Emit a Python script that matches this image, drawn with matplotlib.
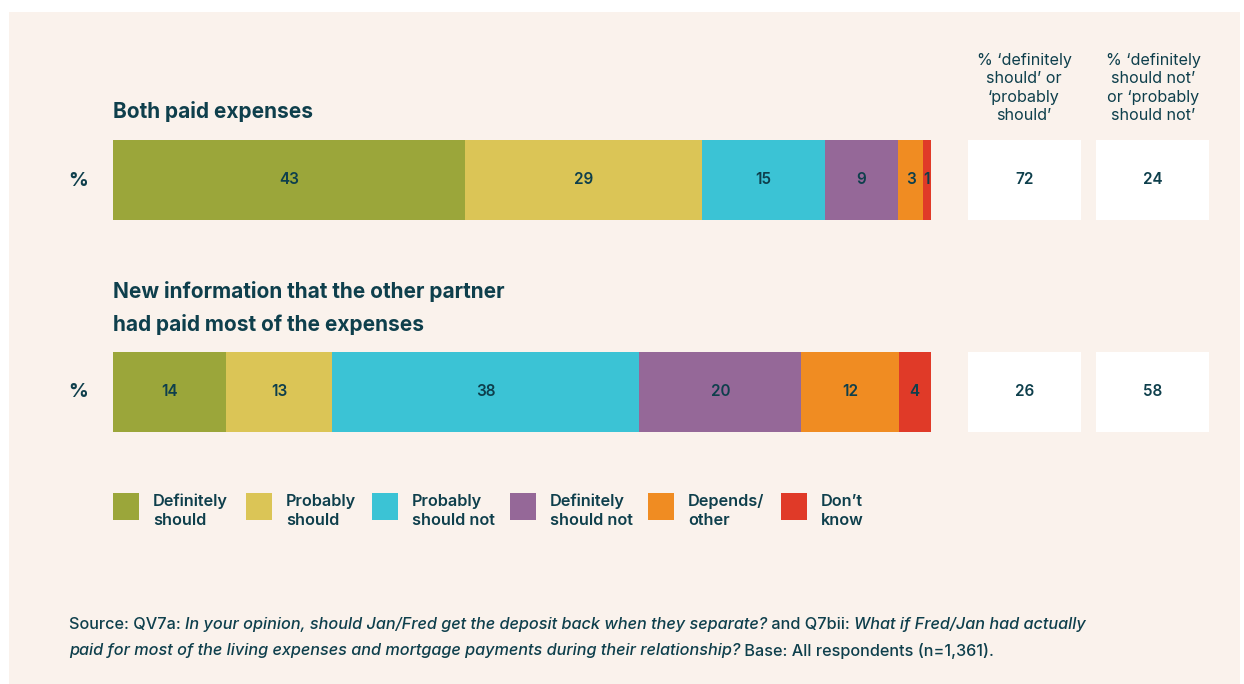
import matplotlib.pyplot as plt
import matplotlib.patches as patches
import numpy as np

W, H = 1244, 684

categories = ['Definitely\nshould', 'Probably\nshould', 'Probably\nshould not',
              'Definitely\nshould not', 'Depends/\nother', 'Don\u2019t\nknow']
row_titles = ['Both paid expenses',
              'New information that the other partner\nhad paid most of the expenses']
both_paid = [43, 29, 15, 9, 3, 1]
other_paid = [14, 13, 38, 20, 12, 4]
net_should = [72, 26]
net_should_not = [24, 58]
col_headers = ['% \u2018definitely\nshould\u2019 or\n\u2018probably\nshould\u2019',
               '% \u2018definitely\nshould not\u2019\nor \u2018probably\nshould not\u2019']

colors = ['#9ba63a', '#dbc556', '#3bc3d5', '#956898', '#f08c22', '#e03a28']
bg = '#faf2ec'
ink = '#0e3f4c'

plt.rcParams['font.family'] = ['Inter', 'DejaVu Sans']

fig = plt.figure(figsize=(W / 100, H / 100), dpi=100, facecolor='white')

# overlay axes in pixel coordinates (y down) for background, text, legend
ov = fig.add_axes([0, 0, 1, 1])
ov.set_xlim(0, W)
ov.set_ylim(H, 0)
ov.axis('off')
ov.add_patch(patches.Rectangle((9, 12), 1231, 680, facecolor=bg, edgecolor='none'))


def fx(px):
    return px / W


def fy(py):
    return 1 - py / H


# bar axes: x 113..931 px, rows centred at 180 and 392 px
unit = 392 - 180
half = 40 / unit
ax = fig.add_axes([fx(113), fy(432), fx(931 - 113), (432 - 140) / H])
ax.set_xlim(0, 100)
ax.set_ylim(1 + half, -half)
ax.axis('off')

rows = [both_paid, other_paid]
for r, vals in enumerate(rows):
    vals = np.array(vals, dtype=float)
    widths = vals / vals.sum() * 100
    lefts = np.concatenate([[0], np.cumsum(widths)[:-1]])
    ax.barh(r, widths, left=lefts, height=2 * half, color=colors, edgecolor='none')
    for v, l, w in zip(vals, lefts, widths):
        ax.text(l + w / 2, r, f'{int(v)}', ha='center', va='center',
                fontsize=11, fontweight='semibold', color=ink)

# summary boxes
box_x = [968, 1096]
box_w = 113
box_y = [140, 352]
for r in range(2):
    for bx, vals in zip(box_x, [net_should, net_should_not]):
        ov.add_patch(patches.Rectangle((bx, box_y[r]), box_w, 80, facecolor='white', edgecolor='none'))
        ov.text(bx + box_w / 2, box_y[r] + 40, f'{vals[r]}', ha='center', va='center',
                fontsize=11, fontweight='semibold', color=ink)

for cx, t in zip([1024, 1153], col_headers):
    ov.text(cx, 88, t, ha='center', va='center', fontsize=11.6, color=ink, linespacing=1.3)

# row titles and % labels
ov.text(113, 112, row_titles[0], ha='left', va='center', fontsize=15, fontweight='bold', color=ink)
ov.text(113, 308, row_titles[1], ha='left', va='center', fontsize=15, fontweight='bold',
        color=ink, linespacing=1.72)
for y in [181, 392]:
    ov.text(78, y, '%', ha='center', va='center', fontsize=14, fontweight='bold', color=ink)

# legend
leg_x = [113, 246, 372, 510, 648, 781]
for lx, c, lab in zip(leg_x, colors, categories):
    ov.add_patch(patches.Rectangle((lx, 493), 26, 27, facecolor=c, edgecolor='none'))
    ov.text(lx + 40, 511, lab, ha='left', va='center', fontsize=11.7, fontweight='semibold',
            color=ink, linespacing=1.3)

# source note, mixing upright and italic runs
line1 = [('Source: QV7a: ', 'normal'),
         ('In your opinion, should Jan/Fred get the deposit back when they separate?', 'italic'),
         (' and Q7bii: ', 'normal'),
         ('What if Fred/Jan had actually', 'italic')]
line2 = [('paid for most of the living expenses and mortgage payments during their relationship?', 'italic'),
         (' Base: All respondents (n=1,361).', 'normal')]

fig.canvas.draw()
renderer = fig.canvas.get_renderer()
for y, parts in [(625, line1), (651, line2)]:
    x = 69
    for s, style in parts:
        t = ov.text(x, y, s, ha='left', va='center', fontsize=11.7, fontweight='medium',
                    style=style, color=ink)
        bb = t.get_window_extent(renderer=renderer)
        x += bb.width

fig.savefig('out.png', dpi=100, facecolor='white')
